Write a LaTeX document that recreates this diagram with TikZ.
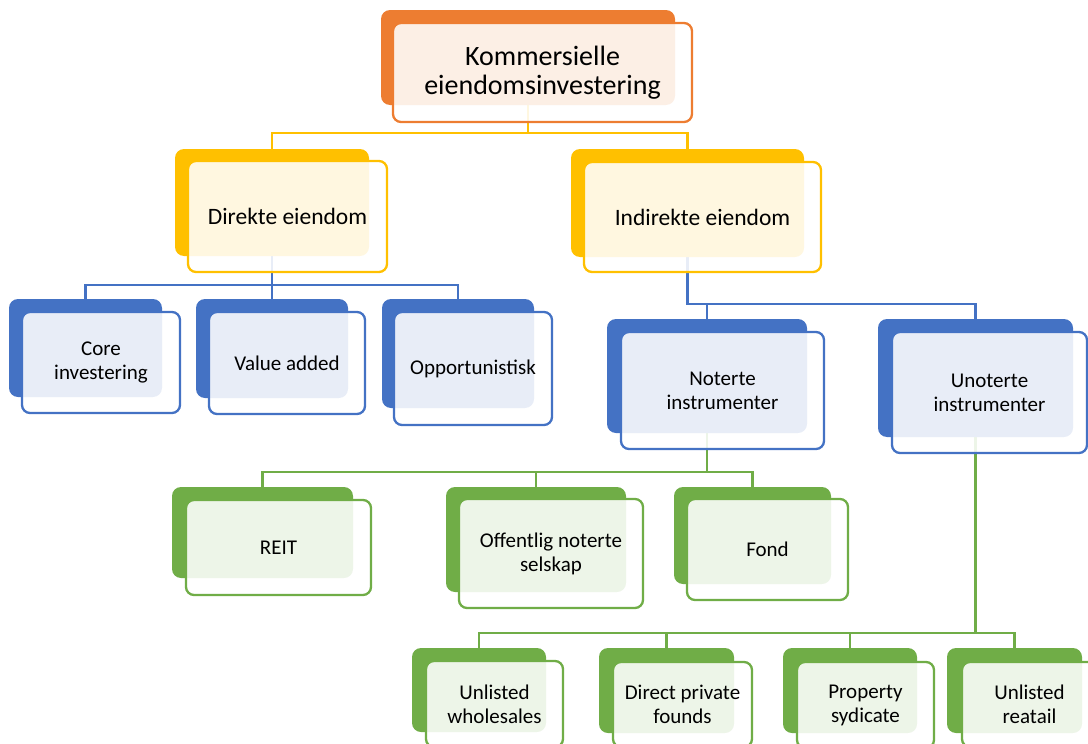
\documentclass[tikz,border=0pt]{standalone}
\usepackage{fontspec}
\setmainfont{Carlito}
\usetikzlibrary{backgrounds}
\definecolor{cOr}{HTML}{ED7D31}
\definecolor{cGo}{HTML}{FFC000}
\definecolor{cBl}{HTML}{4472C4}
\definecolor{cGr}{HTML}{70AD47}
\tikzset{
 backbox/.style={rectangle, rounded corners=9pt, inner sep=0pt, draw=none},
 frontbox/.style={rectangle, rounded corners=8pt, inner sep=0pt, line width=2.3pt, fill=white, fill opacity=0.88, text opacity=1, align=center, text=black},
 conn/.style={line width=2.4pt},
 fA/.style={font=\fontsize{28}{29}\selectfont},
 fB/.style={font=\fontsize{23.5}{27}\selectfont},
 fC/.style={font=\fontsize{21}{24}\selectfont},
}
\newcommand\BackBox[6]{%
 \pgfmathsetmacro\cxa{(#3+#5)/2}%
 \pgfmathsetmacro\cya{(#4+#6)/2}%
 \pgfmathsetmacro\wa{#5-#3}%
 \pgfmathsetmacro\ha{#6-#4}%
 \node[backbox, fill=#2, minimum width=\wa pt, minimum height=\ha pt] (#1) at (\cxa,\cya) {};}
\newcommand\FrontBox[8]{%
 \pgfmathsetmacro\cxa{(#3+#5)/2}%
 \pgfmathsetmacro\cya{(#4+#6)/2}%
 \pgfmathsetmacro\wa{#5-#3}%
 \pgfmathsetmacro\ha{#6-#4}%
 \node[frontbox, #7, draw=#2, minimum width=\wa pt, minimum height=\ha pt] (#1) at (\cxa,\cya) {#8};}
\begin{document}
\begin{tikzpicture}[x=1pt,y=-1pt]
\useasboundingbox (0,0) rectangle (1088,744);
\clip (0,0) rectangle (1088,744);
% back boxes
\BackBox{root}{cOr}{381}{10}{675}{105}
\BackBox{dir}{cGo}{175}{149}{369}{256}
\BackBox{ind}{cGo}{571}{149}{804}{257}
\BackBox{core}{cBl}{9}{299}{162}{397}
\BackBox{val}{cBl}{196}{299}{348}{398}
\BackBox{opp}{cBl}{382}{299}{534}{408}
\BackBox{not}{cBl}{607}{319}{807}{433}
\BackBox{unot}{cBl}{878}{319}{1073}{437}
\BackBox{reit}{cGr}{172}{487}{353}{578}
\BackBox{off}{cGr}{446}{487}{626}{592}
\BackBox{fond}{cGr}{674}{487}{831}{584}
\BackBox{uw}{cGr}{412}{648}{546}{732}
\BackBox{dpf}{cGr}{599}{648}{734}{733}
\BackBox{ps}{cGr}{783}{648}{917}{733}
\BackBox{ur}{cGr}{947}{648}{1082}{733}
% front boxes
\FrontBox{root-t}{cOr}{393}{23}{692}{122}{fA}{Kommersielle\\eiendomsinvestering}
\FrontBox{dir-t}{cGo}{188}{161}{387}{272}{fB}{Direkte eiendom}
\FrontBox{ind-t}{cGo}{584}{162}{821}{272}{fB}{Indirekte eiendom}
\FrontBox{core-t}{cBl}{22}{312}{180}{413}{fC}{Core\\investering}
\FrontBox{val-t}{cBl}{209}{312}{365}{414}{fC}{Value added}
\FrontBox{opp-t}{cBl}{394}{312}{552}{425}{fC}{Opportunistisk}
\FrontBox{not-t}{cBl}{621}{332}{824}{449}{fC}{Noterte\\instrumenter}
\FrontBox{unot-t}{cBl}{892}{332}{1087}{453}{fC}{Unoterte\\instrumenter}
\FrontBox{reit-t}{cGr}{186}{500}{371}{595}{fC}{REIT}
\FrontBox{off-t}{cGr}{459}{499}{643}{608}{fC}{Offentlig noterte\\selskap}
\FrontBox{fond-t}{cGr}{687}{499}{848}{600}{fC}{Fond}
\FrontBox{uw-t}{cGr}{426}{661}{563}{747}{fC}{Unlisted\\wholesales}
\FrontBox{dpf-t}{cGr}{613}{662}{752}{747}{fC}{Direct private\\founds}
\FrontBox{ps-t}{cGr}{797}{662}{934}{748}{fC}{Property\\sydicate}
\FrontBox{ur-t}{cGr}{962}{662}{1097}{747}{fC}{Unlisted\\reatail}
% connectors
\begin{scope}[on background layer]
\draw[conn, cGo] (root.south) -- (root.south |- 0,133) -| (dir.north);
\draw[conn, cGo] (root.south |- 0,133) -| (ind.north);
\draw[conn, cBl] (dir.south) -- (dir.south |- 0,285) -| (core.north);
\draw[conn, cBl] (dir.south |- 0,285) -| (val.north);
\draw[conn, cBl] (dir.south |- 0,285) -| (opp.north);
\draw[conn, cBl] (ind.south) -- (ind.south |- 0,304) -| (not.north);
\draw[conn, cBl] (ind.south |- 0,304) -| (unot.north);
\draw[conn, cGr] (not.south) -- (not.south |- 0,472) -| (reit.north);
\draw[conn, cGr] (not.south |- 0,472) -| (off.north);
\draw[conn, cGr] (not.south |- 0,472) -| (fond.north);
\draw[conn, cGr] (unot.south) -- (unot.south |- 0,633) -| (uw.north);
\draw[conn, cGr] (unot.south |- 0,633) -| (dpf.north);
\draw[conn, cGr] (unot.south |- 0,633) -| (ps.north);
\draw[conn, cGr] (unot.south |- 0,633) -| (ur.north);
\end{scope}
\end{tikzpicture}
\end{document}
